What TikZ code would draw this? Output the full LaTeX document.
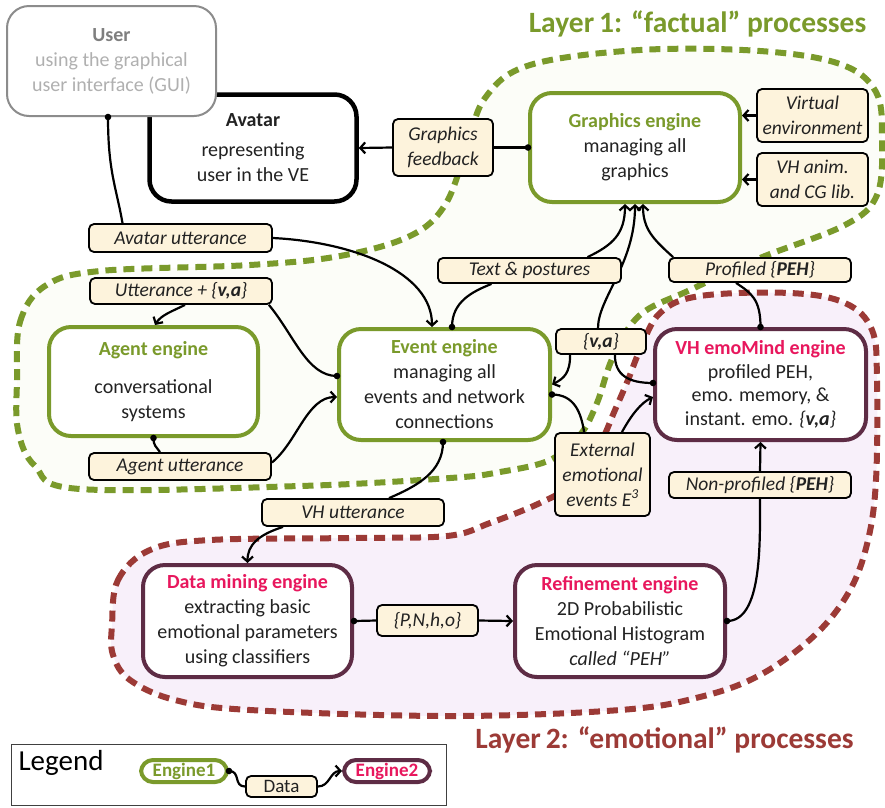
\documentclass[tikz,border=0pt]{standalone}
\usepackage{fontspec}
\setmainfont{Carlito}
\usetikzlibrary{arrows.meta,calc}
\definecolor{lgreen}{HTML}{7A9A2B}
\definecolor{lmaroon}{HTML}{5E2C45}
\definecolor{lpink}{HTML}{E8175D}
\definecolor{lred}{HTML}{9C3A36}
\definecolor{labelfill}{HTML}{FDF3DC}
\definecolor{bodytext}{HTML}{222222}
\definecolor{usertitle}{HTML}{7F7F7F}
\definecolor{userbody}{HTML}{B0B0B0}
\definecolor{userframe}{HTML}{8C8C8C}
\definecolor{factualfill}{HTML}{FCFDF8}
\definecolor{emofill}{HTML}{F8F0FA}
\pgfdeclarelayer{regions}
\pgfdeclarelayer{wires}
\pgfdeclarelayer{front}
\pgfsetlayers{regions,wires,main,front}
\begin{document}
\begin{tikzpicture}[x=1pt,y=-1pt,
  >={Straight Barb[length=5pt,width=11pt]},
  enginebox/.style={draw, line width=4pt, rounded corners=22pt, fill=white,
    align=center, inner sep=0pt, text=bodytext,
    font=\fontsize{20}{25}\selectfont},
  factual/.style={enginebox, draw=lgreen},
  emotional/.style={enginebox, draw=lmaroon},
  lbl/.style={draw=black, line width=1.8pt, fill=labelfill, rounded corners=5pt,
    align=center, inner sep=0pt, text=bodytext,
    font=\fontsize{19.5}{25}\selectfont\itshape},
  wire/.style={line width=2.2pt, black},
  layerline/.style={line width=6pt, dash pattern=on 11pt off 7pt}
]
\useasboundingbox (0,0) rectangle (885,807);

% ---------- engines ----------
\node[enginebox, draw=black, line width=4.5pt, minimum width=207pt, minimum height=107pt]
  (avatar) at (253,148) {\textbf{Avatar}\\[5pt]representing\\user in the VE};
\node[enginebox, draw=userframe, line width=2pt, minimum width=209pt, minimum height=110pt]
  (user) at (111.5,61) {\textcolor{usertitle}{\bfseries User}\\
  \textcolor{userbody}{using the graphical}\\\textcolor{userbody}{user interface (GUI)}};
\node[factual, minimum width=210pt, minimum height=109pt] (graphics) at (635,147.5)
  {\textcolor{lgreen}{\bfseries Graphics engine}\\managing all\\graphics};
\node[factual, minimum width=209pt, minimum height=109pt] (agent) at (153.5,381.5)
  {\textcolor{lgreen}{\bfseries Agent engine}\\[13pt]conversational\\systems};
\node[factual, minimum width=211pt, minimum height=111pt] (event) at (444.5,384.5)
  {\textcolor{lgreen}{\bfseries Event engine}\\managing all\\events and network\\connections};
\node[emotional, minimum width=211pt, minimum height=111pt, font=\fontsize{20}{23.5}\selectfont]
  (emomind) at (760.5,384.5)
  {\textcolor{lpink}{\bfseries VH emoMind engine}\\profiled PEH,\\emo. memory, \&\\
   instant. emo. \textit{\{\textbf{v,a}\}}};
\node[emotional, minimum width=209pt, minimum height=112pt] (datamining) at (247.5,621)
  {\textcolor{lpink}{\bfseries Data mining engine}\\extracting basic\\emotional parameters\\using classifiers};
\node[emotional, minimum width=210pt, minimum height=112pt] (refine) at (620,621)
  {\textcolor{lpink}{\bfseries Refinement engine}\\2D Probabilistic\\Emotional Histogram\\\textit{called “PEH”}};

% ---------- data labels ----------
\node[lbl, minimum width=100pt, minimum height=57pt] (gfb) at (443,147.5) {Graphics\\feedback};
\node[lbl, minimum width=111pt, minimum height=53pt] (venv) at (812.5,115.5) {Virtual\\environment};
\node[lbl, minimum width=111pt, minimum height=53pt] (vhanim) at (812.5,179.5) {VH anim.\\and CG lib.};
\node[lbl, minimum width=183pt, minimum height=28pt] (avutt) at (180.5,238) {Avatar utterance};
\node[lbl, minimum width=182pt, minimum height=26pt] (uttva) at (181,291) {Utterance + \{\textbf{v,a}\}};
\node[lbl, minimum width=182pt, minimum height=27pt] (agutt) at (180,466.5) {Agent utterance};
\node[lbl, minimum width=183pt, minimum height=25pt] (textpost) at (529.5,270.5) {Text \& postures};
\node[lbl, minimum width=90pt, minimum height=25pt] (va) at (601,341.5) {\{\textbf{v,a}\}};
\node[lbl, minimum width=182pt, minimum height=24pt] (profpeh) at (760,270) {Profiled \{\textbf{PEH}\}};
\node[lbl, minimum width=95pt, minimum height=83pt] (ext) at (602.5,474.5) {External\\emotional\\events E\textsuperscript{3}};
\node[lbl, minimum width=182pt, minimum height=26pt] (nonprof) at (760,485) {Non-profiled \{\textbf{PEH}\}};
\node[lbl, minimum width=182pt, minimum height=27pt] (vhutt) at (353,512.5) {VH utterance};
\node[lbl, minimum width=101pt, minimum height=31pt] (pnho) at (427.5,620.5) {\{P,N,h,o\}};

% ---------- layer titles ----------
\node[font=\fontsize{29.5}{32}\selectfont\bfseries, text=lgreen] (l1title) at (697.5,24)
  {Layer\,1: “factual” processes};
\node[font=\fontsize{29.5}{32}\selectfont\bfseries, text=lred] (l2title) at (664.5,740)
  {Layer\,2: “emotional” processes};

% ---------- legend ----------
\node[draw=black!75, line width=1.3pt, minimum width=435pt, minimum height=61pt, inner sep=0pt]
  (legendbox) at (229,775) {};
\node[font=\fontsize{29}{32}\selectfont, text=black] (legendtitle) at (61,763) {Legend};
\node[factual, rounded corners=12pt, minimum width=86pt, minimum height=22pt,
  font=\fontsize{19}{22}\selectfont\bfseries] (eng1) at (184,771) {\textcolor{lgreen}{Engine1}};
\node[emotional, rounded corners=12pt, minimum width=86pt, minimum height=22pt,
  font=\fontsize{19}{22}\selectfont\bfseries] (eng2) at (387,771) {\textcolor{lpink}{Engine2}};
\node[lbl, font=\fontsize{19}{22}\selectfont, minimum width=71pt, minimum height=21pt]
  (data) at (281.5,786.5) {Data};

% ---------- process layers ----------
\begin{pgfonlayer}{regions}
  \def\factualpath{plot[smooth cycle, tension=0.6] coordinates {
    (17,380) (20,322) (45,286) (100,271) (250,265) (340,256) (410,236) (445,205)
    (466,150) (485,98) (530,65) (640,50) (760,51) (840,64) (876,92) (882,140)
    (877,195) (845,225) (760,258) (690,290) (640,315) (613,357) (597,403)
    (580,435) (550,460) (500,472) (450,478) (300,486) (80,489) (35,466) (18,430)}}
  \def\emopath{plot[smooth cycle, tension=0.6] coordinates {
    (112,625) (118,580) (150,550) (210,540) (350,538) (447,536) (490,523)
    (540,503) (570,485) (597,450) (615,410) (628,380) (640,350) (660,313)
    (700,296) (790,293) (845,303) (872,330) (877,380) (876,480) (868,540)
    (850,590) (815,635) (760,675) (700,697) (620,710) (450,716) (250,710)
    (175,700) (130,680) (113,655)}}
  \fill[factualfill] \factualpath;
  \fill[emofill] \emopath;
  \draw[layerline, lgreen] \factualpath;
  \draw[layerline, lred] \emopath;
\end{pgfonlayer}

% ---------- connectors ----------
\begin{pgfonlayer}{wires}
  % user speaks through the avatar
  \draw[wire] ($(user.south)+(-3.5,0)$) coordinate (d1)
    .. controls +(0,55) and +(-6,-35) .. ($(avutt.north)+(-58,0)$);
  \draw[wire,->] (avutt.east) .. controls +(80,4) and +(0,-55) .. ($(event.north)+(-12.5,0)$);
  % utterance to the agent
  \draw[wire,->] ($(uttva.south)+(4,0)$) .. controls +(-12,6) and +(6,-10) .. ($(agent.north)+(1.5,0)$);
  \draw[wire] ($(event.west)+(0,-8.5)$) coordinate (d2)
    .. controls +(-30,0) and +(25,30) .. ($(uttva.south east)+(-4,0)$);
  % agent answer
  \draw[wire] (agent.south) coordinate (d3)
    .. controls +(0,8) and +(-4,-6) .. ($(agutt.north)+(-20,0)$);
  \draw[wire,->] ($(agutt.east)+(0,-4)$) .. controls +(25,-20) and +(-30,0) .. ($(event.west)+(0,12.5)$);
  % text and postures to graphics
  \draw[wire] ($(event.north)+(7.5,0)$) coordinate (d4)
    .. controls +(0,-25) and +(-20,8) .. ($(textpost.south)+(-38,0)$);
  \draw[wire,->] ($(textpost.north)+(58,0)$) .. controls +(25,-12) and +(0,30) .. ($(graphics.south)+(-10,0)$);
  % instant emotion {v,a}
  \draw[wire,->] ($(va.north)+(-3,0)$) .. controls +(0,-30) and +(0,60) .. (graphics.south);
  \draw[wire,->] ($(va.south west)+(15,0)$) .. controls +(0,18) and +(12,-6) .. (event.east);
  \draw[wire] ($(emomind.west)+(0,-1.5)$) coordinate (d5)
    .. controls +(-25,0) and +(0,20) .. ($(va.south east)+(-32,0)$);
  % profiled PEH
  \draw[wire] (emomind.north) coordinate (d6)
    .. controls +(0,-28) and +(15,10) .. ($(profpeh.south)+(-24,0)$);
  \draw[wire,->] ($(profpeh.north west)+(5,0)$) .. controls +(-20,-18) and +(0,25) .. ($(graphics.south)+(8,0)$);
  % external emotional events
  \draw[wire] ($(event.east)+(0,10)$) coordinate (d7)
    .. controls +(22,0) and +(-3,-20) .. ($(ext.north west)+(30,0)$);
  \draw[wire,->] ($(ext.north east)+(-29,0)$) .. controls +(10,-18) and +(-12,6) .. ($(emomind.west)+(0,12.5)$);
  % non-profiled PEH
  \draw[wire] (refine.east) coordinate (d8) .. controls +(35,0) and +(0,45) .. (nonprof.south);
  \draw[wire,->] (nonprof.north) -- (emomind.south);
  % VH utterance to data mining
  \draw[wire] ($(event.south)+(-1.5,0)$) coordinate (d9)
    .. controls +(0,30) and +(28,-12) .. ($(vhutt.north)+(36,0)$);
  \draw[wire,->] ($(vhutt.south)+(-70,0)$) .. controls +(-25,8) and +(0,-18) .. (datamining.north);
  % emotional parameters
  \draw[wire] (datamining.east) coordinate (d10) -- (pnho.west);
  \draw[wire,->] (pnho.east) -- (refine.west);
  % graphics feedback
  \draw[wire] (graphics.west) coordinate (d11) -- (gfb.east);
  \draw[wire,->] (gfb.west) -- (avatar.east);
  \draw[wire,->] (venv.west) -- (venv.west -| graphics.east);
  \draw[wire,->] (vhanim.west) -- (vhanim.west -| graphics.east);
  % legend connectors
  \draw[wire] (eng1.east) coordinate (d12) .. controls +(12,0) and +(-12,0) .. (data.west);
  \draw[wire,->] (data.east) .. controls +(12,0) and +(-12,0) .. (eng2.west);
\end{pgfonlayer}

\begin{pgfonlayer}{front}
  \foreach \i in {1,...,12} \fill (d\i) circle (3.3pt);
\end{pgfonlayer}
\end{tikzpicture}
\end{document}
